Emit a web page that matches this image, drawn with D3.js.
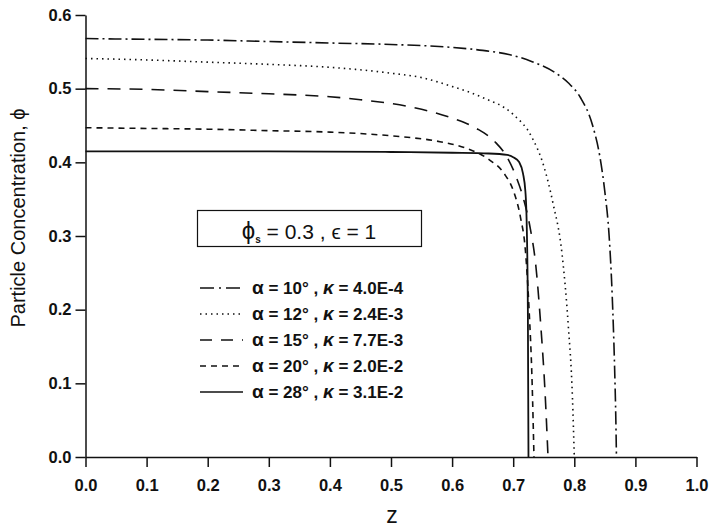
<!DOCTYPE html>
<html>
<head>
<meta charset="utf-8">
<script src="https://cdn.jsdelivr.net/npm/d3@7"></script>
<style>
  body { margin: 0; background: #fff; }
  svg { font-family: "Liberation Sans", Arial, sans-serif; }
</style>
</head>
<body>
<svg id="chart"></svg>
<script>
// Curves: z positions and particle concentration phi
let z10 = [0, 0.1, 0.2, 0.3, 0.4, 0.5, 0.6, 0.65, 0.7, 0.73, 0.77, 0.79, 0.81, 0.83, 0.842, 0.85, 0.857, 0.862, 0.866, 0.868, 0.869];
let phi10 = [0.568, 0.567, 0.566, 0.564, 0.562, 0.56, 0.556, 0.552, 0.545, 0.537, 0.521, 0.508, 0.488, 0.45, 0.407, 0.36, 0.30, 0.22, 0.12, 0.05, 0];

let z12 = [0, 0.1, 0.2, 0.3, 0.4, 0.5, 0.55, 0.6, 0.65, 0.7, 0.73, 0.75, 0.765, 0.78, 0.79, 0.797, 0.8];
let phi12 = [0.541, 0.539, 0.536, 0.533, 0.529, 0.521, 0.515, 0.503, 0.488, 0.465, 0.435, 0.395, 0.345, 0.275, 0.18, 0.08, 0];

let z15 = [0, 0.1, 0.2, 0.3, 0.4, 0.45, 0.55, 0.6, 0.64, 0.67, 0.69, 0.705, 0.717, 0.728, 0.737, 0.745, 0.752, 0.757];
let phi15 = [0.500, 0.499, 0.496, 0.493, 0.489, 0.485, 0.472, 0.46, 0.446, 0.428, 0.407, 0.38, 0.35, 0.31, 0.26, 0.18, 0.09, 0];

let z20 = [0, 0.1, 0.2, 0.3, 0.4, 0.5, 0.58, 0.62, 0.66, 0.685, 0.7, 0.712, 0.72, 0.726, 0.731, 0.734];
let phi20 = [0.447, 0.446, 0.445, 0.443, 0.441, 0.436, 0.428, 0.42, 0.404, 0.385, 0.362, 0.325, 0.28, 0.2, 0.1, 0];

let z28 = [0, 0.3, 0.5, 0.6, 0.66, 0.69, 0.70, 0.71, 0.716, 0.72, 0.722, 0.724, 0.725];
let phi28 = [0.415, 0.415, 0.414, 0.413, 0.412, 0.410, 0.407, 0.400, 0.385, 0.36, 0.32, 0.2, 0];

let legendLabels = [
    ["10", "4.0E-4"],
    ["12", "2.4E-3"],
    ["15", "7.7E-3"],
    ["20", "2.0E-2"],
    ["28", "3.1E-2"]
];
let xTicks = [0, 0.1, 0.2, 0.3, 0.4, 0.5, 0.6, 0.7, 0.8, 0.9, 1.0];
let yTicks = [0, 0.1, 0.2, 0.3, 0.4, 0.5, 0.6];

let width = 710;
let height = 530;
let margin = { top: 15, left: 85.5, right: 13.5, bottom: 73 };

let svg = d3.select("#chart")
    .attr("width", width)
    .attr("height", height);

let xScale = d3.scaleLinear()
    .domain([0, 1])
    .range([margin.left, width - margin.right]);
let yScale = d3.scaleLinear()
    .domain([0, 0.6])
    .range([height - margin.bottom, margin.top]);

// dash patterns for the five cases
let dashes = ["13,4,2,4", "1.5,4", "13,9", "6,5", null];
let series = [
    d3.zip(z10, phi10),
    d3.zip(z12, phi12),
    d3.zip(z15, phi15),
    d3.zip(z20, phi20),
    d3.zip(z28, phi28)
];

let line = d3.line()
    .x(d => xScale(d[0]))
    .y(d => yScale(d[1]))
    .curve(d3.curveMonotoneX);

svg.append("g")
    .selectAll("path")
    .data(series)
    .enter().append("path")
    .attr("d", line)
    .attr("fill", "none")
    .attr("stroke", "#111")
    .attr("stroke-width", (d, i) => i == 4 ? 1.8 : 1.6)
    .attr("stroke-dasharray", (d, i) => dashes[i]);

// axes
let xAxis = svg.append("g")
    .attr("transform", `translate(0, ${yScale(0)})`)
    .call(d3.axisBottom(xScale).tickValues(xTicks).tickFormat(d3.format(".1f"))
        .tickSize(10).tickSizeOuter(0).tickPadding(12));
let yAxis = svg.append("g")
    .attr("transform", `translate(${xScale(0)}, 0)`)
    .call(d3.axisLeft(yScale).tickValues(yTicks).tickFormat(d3.format(".1f"))
        .tickSize(10).tickSizeOuter(0).tickPadding(4));

[xAxis, yAxis].forEach(g => {
    g.selectAll("path, line").attr("stroke", "#111").attr("stroke-width", 1.5);
    g.selectAll("text")
        .attr("fill", "#111")
        .style("font-size", "16.5px")
        .style("font-weight", "bold")
        .style("font-family", "'Liberation Sans', Arial, sans-serif");
});

// axis titles
svg.append("text")
    .attr("transform", "translate(25, 218) rotate(-90)")
    .attr("text-anchor", "middle")
    .style("font-size", "20px")
    .attr("fill", "#111")
    .text("Particle Concentration, ϕ");

svg.append("text")
    .attr("x", xScale(0.5) + 1)
    .attr("y", 523)
    .attr("text-anchor", "middle")
    .style("font-size", "23px")
    .attr("fill", "#111")
    .text("z");

// parameter box
svg.append("rect")
    .attr("x", 197.5)
    .attr("y", 210.5)
    .attr("width", 224)
    .attr("height", 36)
    .attr("fill", "none")
    .attr("stroke", "#111")
    .attr("stroke-width", 1.2);

let boxText = svg.append("text")
    .attr("x", 309)
    .attr("y", 239)
    .attr("text-anchor", "middle")
    .style("font-size", "21px")
    .attr("fill", "#111");
boxText.append("tspan").style("font-size", "24px").text("ϕ");
boxText.append("tspan").attr("dy", 4).style("font-size", "10px").style("font-weight", "bold").text("s");
boxText.append("tspan").attr("dy", -4).text(" = 0.3 , ");
boxText.append("tspan").text("ϵ");
boxText.append("tspan").text(" = 1");

// legend
let legend = svg.append("g")
    .selectAll("g")
    .data(legendLabels)
    .enter().append("g")
    .attr("transform", (d, i) => `translate(200, ${288 + i * 26})`);

legend.append("line")
    .attr("x1", 0)
    .attr("x2", 43)
    .attr("stroke", "#111")
    .attr("stroke-width", 1.6)
    .attr("stroke-dasharray", (d, i) => i == 0 ? "14,5,2,5" : i == 2 ? "12,9" : dashes[i]);

let legendText = legend.append("text")
    .attr("x", 52)
    .attr("y", 6)
    .style("font-size", "17px")
    .style("font-weight", "bold")
    .attr("fill", "#111");
legendText.append("tspan").style("font-size", "19px").text("α");
legendText.append("tspan").text(d => ` = ${d[0]}°`);
legendText.append("tspan").text(" , ");
legendText.append("tspan").style("font-style", "italic").style("font-size", "19px").text("κ");
legendText.append("tspan").text(d => ` = ${d[1]}`);
</script>
</body>
</html>
